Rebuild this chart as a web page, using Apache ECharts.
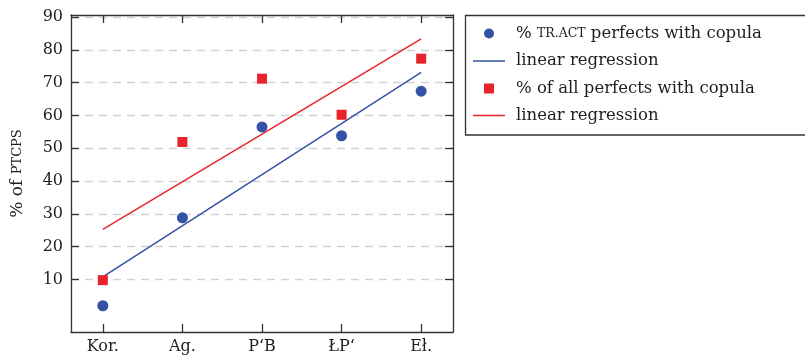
<!DOCTYPE html>
<html>
<head>
<meta charset="utf-8">
<script src="https://cdn.jsdelivr.net/npm/echarts@6/dist/echarts.min.js"></script>
<style>html,body{margin:0;padding:0;background:#fff}#c{width:805px;height:359px}</style>
</head>
<body>
<div id="c"></div>
<script>
var categories = ['Kor.', 'Ag.', 'P\u2018B', '\u0141P\u2018', 'E\u0142.'];
var trActValues = [2.0, 28.8, 56.5, 53.8, 67.4];
var allPerfValues = [9.8, 51.9, 71.2, 60.2, 77.3];
var trActRegression = [10.8, 73.1];   // at Kor. and Eł.
var allPerfRegression = [25.3, 83.3]; // at Kor. and Eł.
var yTicks = [10, 20, 30, 40, 50, 60, 70, 80, 90];

var FONT = 'DejaVu Serif';
var BLUE = '#3451a5';
var RED = '#e8232b';
var AX = '#333333';
var TXT = '#1e1e1e';
var catIdx = categories.map(function (c, i) { return i; });
var last = categories.length - 1;

function pts(vals) { return vals.map(function (v, i) { return [i, v]; }); }

var legendText = {
  s1: '% {sc|TR.ACT} perfects with copula',
  r1: 'linear regression',
  s2: '% of all perfects with copula',
  r2: 'linear regression'
};
function legendRow(name, rowCenter, isLine) {
  var w = isLine ? 32 : 10;
  var h = isLine ? 1.5 : 10;
  var left = isLine ? 473 : 484;
  var padLeft = 516 - left - w - 5;
  return {
    orient: 'vertical', left: left, top: rowCenter - 8, padding: 0,
    itemWidth: w, itemHeight: h,
    selectedMode: false,
    data: [isLine ? {name: name, icon: 'rect'} : {name: name}],
    formatter: function (n) { return legendText[n]; },
    textStyle: {
      fontFamily: FONT, fontSize: 16.5, color: TXT, padding: [0, 0, 0, padLeft],
      rich: {sc: {fontFamily: FONT, fontSize: 12.5, color: TXT}}
    }
  };
}

var chart = echarts.init(document.getElementById('c'), null, {renderer: 'canvas'});
chart.setOption({
  animation: false,
  backgroundColor: '#fff',
  textStyle: {fontFamily: FONT},
  grid: {left: 71, right: 352, top: 15, bottom: 27, containLabel: false},
  graphic: [{
    type: 'rect', shape: {x: 465.5, y: 15.5, width: 400, height: 119.5},
    style: {fill: 'none', stroke: AX, lineWidth: 1.3}, z: 10
  }],
  legend: [
    legendRow('s1', 33, false),
    legendRow('r1', 60.5, true),
    legendRow('s2', 88, false),
    legendRow('r2', 115, true)
  ],
  xAxis: [{
    type: 'value', position: 'bottom', min: -0.4, max: 4.4,
    axisLine: {show: true, onZero: false, lineStyle: {color: AX, width: 1.3}},
    axisTick: {show: true, inside: true, length: 8, customValues: catIdx, lineStyle: {color: AX, width: 1.3}},
    axisLabel: {show: true, customValues: catIdx, margin: 7, color: TXT, fontFamily: FONT, fontSize: 16,
      formatter: function (v) { return categories[Math.round(v)]; }},
    splitLine: {show: false}
  }, {
    type: 'value', position: 'top', min: -0.4, max: 4.4,
    axisLine: {show: true, onZero: false, lineStyle: {color: AX, width: 1.3}},
    axisTick: {show: true, inside: true, length: 8, customValues: catIdx, lineStyle: {color: AX, width: 1.3}},
    axisLabel: {show: false},
    splitLine: {show: false}
  }],
  yAxis: [{
    type: 'value', position: 'left', min: -6, max: 90.6,
    name: '% of {sc|PTCPS}', nameLocation: 'middle', nameGap: 45,
    nameTextStyle: {fontFamily: FONT, fontSize: 17, color: TXT,
      rich: {sc: {fontFamily: FONT, fontSize: 13, color: TXT}}},
    axisLine: {show: true, onZero: false, lineStyle: {color: AX, width: 1.3}},
    axisTick: {show: true, inside: true, length: 8, customValues: yTicks, lineStyle: {color: AX, width: 1.3}},
    axisLabel: {show: true, customValues: yTicks, margin: 8, color: TXT, fontFamily: FONT, fontSize: 16},
    splitLine: {show: true, lineStyle: {color: '#d2d2d2', width: 1.3, type: [8, 6]}}
  }, {
    type: 'value', position: 'right', min: -6, max: 90.6,
    axisLine: {show: true, onZero: false, lineStyle: {color: AX, width: 1.3}},
    axisTick: {show: true, inside: true, length: 8, customValues: yTicks, lineStyle: {color: AX, width: 1.3}},
    axisLabel: {show: false},
    splitLine: {show: false}
  }],
  series: [{
    name: 's1', type: 'scatter', xAxisIndex: 0, yAxisIndex: 0,
    symbol: 'circle', symbolSize: 11, itemStyle: {color: BLUE, opacity: 1},
    data: pts(trActValues), z: 5
  }, {
    name: 'r1', type: 'line', xAxisIndex: 0, yAxisIndex: 0, symbol: 'none',
    lineStyle: {color: BLUE, width: 1.5}, itemStyle: {color: BLUE},
    data: [[0, trActRegression[0]], [last, trActRegression[1]]], z: 3
  }, {
    name: 's2', type: 'scatter', xAxisIndex: 0, yAxisIndex: 0,
    symbol: 'rect', symbolSize: 10, itemStyle: {color: RED, opacity: 1},
    data: pts(allPerfValues), z: 5
  }, {
    name: 'r2', type: 'line', xAxisIndex: 0, yAxisIndex: 0, symbol: 'none',
    lineStyle: {color: RED, width: 1.5}, itemStyle: {color: RED},
    data: [[0, allPerfRegression[0]], [last, allPerfRegression[1]]], z: 3
  }]
});
</script>
</body>
</html>
